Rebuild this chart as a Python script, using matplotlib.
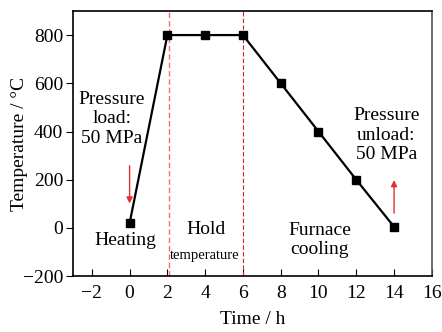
import matplotlib
matplotlib.use("Agg")
import matplotlib.pyplot as plt

plt.rcParams['font.family'] = ['Liberation Serif', 'DejaVu Serif']

# schedule of the hot-press run
time_h = [0, 2, 4, 6, 8, 10, 12, 14]
temp_c = [20, 800, 800, 800, 600, 400, 200, 5]
stage_bounds = [2.1, 6]

fig = plt.figure(figsize=(4.42, 3.32), dpi=100)
ax = fig.add_axes([0.165, 0.168, 0.812, 0.799])

ax.plot(time_h, temp_c, color='black', lw=1.6, marker='s', ms=5.8, zorder=3)

ax.axvline(stage_bounds[0], color='#f07070', ls='--', lw=1.0, dashes=(4, 2))
ax.axvline(stage_bounds[1], color='#e02020', ls='--', lw=0.8, dashes=(4, 2))

# pressure load / unload arrows
ax.annotate('', xy=(0, 90), xytext=(0, 270),
            arrowprops=dict(arrowstyle='-|>', color='#e03030', lw=1.0,
                            mutation_scale=9))
ax.annotate('', xy=(14, 210), xytext=(14, 50),
            arrowprops=dict(arrowstyle='-|>', color='#e03030', lw=1.0,
                            mutation_scale=9))

fs = 14
ax.text(-0.95, 452, 'Pressure\nload:\n50 MPa', ha='center', va='center',
        fontsize=fs)
ax.text(-0.2, -50, 'Heating', ha='center', va='center', fontsize=fs)
ax.text(4.05, -5, 'Hold', ha='center', va='center', fontsize=fs)
ax.text(4.0, -112, 'temperature', ha='center', va='center', fontsize=10.5)
ax.text(10.05, -50, 'Furnace\ncooling', ha='center', va='center',
        fontsize=fs)
ax.text(13.6, 385, 'Pressure\nunload:\n50 MPa', ha='center', va='center',
        fontsize=fs)

ax.set_xlim(-3, 16)
ax.set_ylim(-200, 900)
ax.set_xticks([-2, 0, 2, 4, 6, 8, 10, 12, 14, 16])
ax.set_yticks([-200, 0, 200, 400, 600, 800])
ax.set_xticklabels(['\u22122', '0', '2', '4', '6', '8', '10', '12', '14', '16'])
ax.set_yticklabels(['\u2212200', '0', '200', '400', '600', '800'])
ax.tick_params(axis='x', direction='in', length=5, labelsize=fs, pad=6)
ax.tick_params(axis='y', direction='out', length=5, labelsize=fs, pad=2)

for s in ax.spines.values():
    s.set_linewidth(1.2)
ax.spines['right'].set_color('#555555')

ax.set_xlabel('Time / h', fontsize=fs, labelpad=7)
ax.set_ylabel('Temperature / \u00b0C', fontsize=fs, labelpad=-4)

fig.savefig('out.png', dpi=100)
